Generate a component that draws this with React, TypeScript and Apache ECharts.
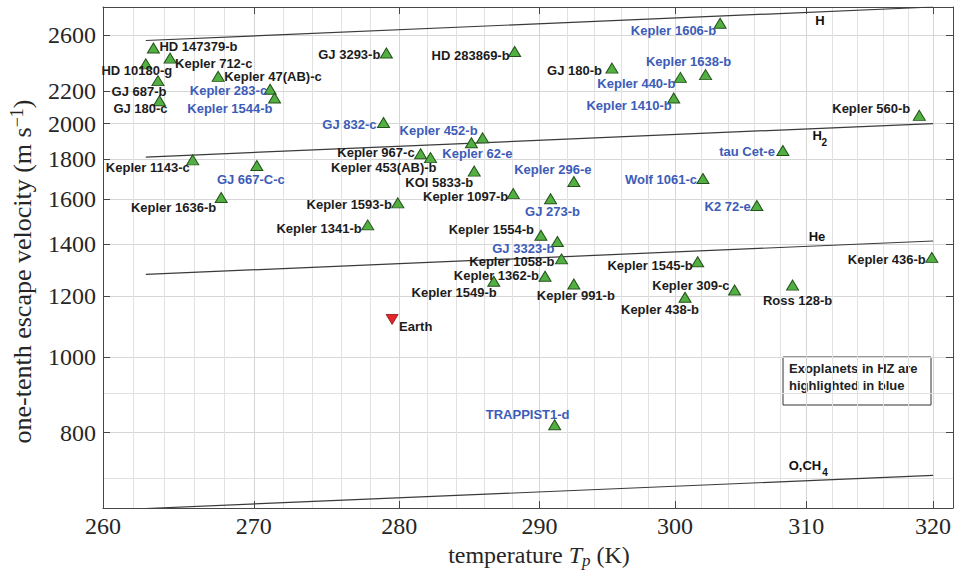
import { useEffect, useRef } from 'react';
import * as echarts from 'echarts';

// ---------- data ----------
const planetNames = [
  'HD 147379-b', 'Kepler 712-c', 'HD 10180-g', 'GJ 687-b', 'GJ 180-c', 'Kepler 47(AB)-c',
  'Kepler 283-c', 'Kepler 1544-b', 'Kepler 1143-c', 'GJ 667-C-c', 'Kepler 1636-b', 'GJ 3293-b',
  'HD 283869-b', 'GJ 180-b', 'GJ 832-c', 'Kepler 452-b', 'Kepler 62-e', 'Kepler 967-c',
  'Kepler 453(AB)-b', 'KOI 5833-b', 'Kepler 296-e', 'Kepler 1097-b', 'GJ 273-b', 'Kepler 1593-b',
  'Kepler 1341-b', 'Kepler 1554-b', 'GJ 3323-b', 'Kepler 1058-b', 'Kepler 1362-b', 'Kepler 1549-b',
  'Kepler 991-b', 'TRAPPIST1-d', 'Kepler 1606-b', 'Kepler 1638-b', 'Kepler 440-b', 'Kepler 1410-b',
  'Kepler 560-b', 'tau Cet-e', 'Wolf 1061-c', 'K2 72-e', 'Kepler 1545-b', 'Kepler 436-b',
  'Kepler 309-c', 'Kepler 438-b', 'Ross 128-b',
];
const planetTemps = [
  263.3, 264.4, 262.8, 263.6, 263.7, 267.6,
  271.1, 271.4, 265.9, 270.2, 267.8, 279.1,
  288.2, 295.3, 278.9, 285.9, 285.1, 281.5,
  282.2, 285.3, 292.5, 288.1, 290.8, 279.9,
  277.8, 290.1, 291.3, 291.6, 290.4, 286.7,
  292.5, 291.1, 303.4, 302.3, 300.4, 299.9,
  318.9, 308.2, 302.1, 306.2, 301.7, 319.9,
  304.5, 300.75, 308.95,
];
const planetVelocities = [
  2502, 2428, 2387, 2271, 2140, 2300,
  2214, 2157, 1796, 1766, 1606, 2465,
  2476, 2357, 2006, 1917, 1889, 1829,
  1808, 1737, 1684, 1625, 1600, 1581,
  1481, 1436, 1410, 1339, 1272, 1253,
  1243, 819, 2692, 2312, 2293, 2157,
  2049, 1846, 1699, 1569, 1328, 1345,
  1221, 1195, 1239,
];
const habitableZone = [
  'Kepler 283-c', 'Kepler 1544-b', 'GJ 667-C-c', 'GJ 832-c', 'Kepler 452-b', 'Kepler 62-e',
  'Kepler 296-e', 'GJ 273-b', 'GJ 3323-b', 'TRAPPIST1-d', 'Kepler 1606-b', 'Kepler 1638-b',
  'Kepler 440-b', 'Kepler 1410-b', 'tau Cet-e', 'Wolf 1061-c', 'K2 72-e',
];

const earthName = 'Earth';
const earthTemp = 279.5;
const earthVelocity = 1119;

// gas retention limits (two end points each)
const limitTemps = [262.8, 320];
const limitH = [2558, 2825];
const limitH2 = [1811, 2000];
const limitHe = [1279, 1412];
const limitOCH4 = [639, 705];

const limitLabelTexts = ['H', 'H', 'He', 'O,CH'];
const limitLabelSubs = ['', '2', '', '4'];
const limitLabelTemps = [310.7, 310.5, 310.2, 308.65];
const limitLabelVels = [2718, 1929, 1432, 725];

const xMajorTicks = [260, 270, 280, 290, 300, 310, 320];
const xMinorTicks = [262, 264, 266, 268, 272, 274, 276, 278, 282, 284, 286, 288, 292, 294, 296, 298,
  302, 304, 306, 308, 312, 314, 316, 318];
const yMajorTicks = [800, 1000, 1200, 1400, 1600, 1800, 2000, 2200, 2600];
const yMinorTicks = [700, 900];

// ---------- label placement (style, not data) ----------
const labelPlacement: Record<string, [string, number, number]> = {
  'HD 147379-b': ['left', 6, -1],
  'Kepler 712-c': ['left', 5, 5],
  'HD 10180-g': ['center', -9, 7],
  'GJ 687-b': ['center', -19, 10.5],
  'GJ 180-c': ['center', -19, 8],
  'Kepler 47(AB)-c': ['left', 6, 0],
  'Kepler 283-c': ['right', -3, 1],
  'Kepler 1544-b': ['right', -2, 10],
  'Kepler 1143-c': ['right', -3, 7.5],
  'GJ 667-C-c': ['center', -6, 14],
  'Kepler 1636-b': ['right', -5, 10],
  'GJ 3293-b': ['right', -6, 2],
  'HD 283869-b': ['right', -5, 4],
  'GJ 180-b': ['right', -10, 2],
  'GJ 832-c': ['right', -7, 2],
  'Kepler 452-b': ['right', -5, -7],
  'Kepler 62-e': ['center', 6, 11],
  'Kepler 967-c': ['right', -6, -1],
  'Kepler 453(AB)-b': ['right', 6, 10],
  'KOI 5833-b': ['right', -1, 11],
  'Kepler 296-e': ['center', -21, -12],
  'Kepler 1097-b': ['right', -5, 3],
  'GJ 273-b': ['center', 2, 13],
  'Kepler 1593-b': ['right', -6, 2],
  'Kepler 1341-b': ['right', -6, 4],
  'Kepler 1554-b': ['right', -7, -6],
  'GJ 3323-b': ['right', -3, 7],
  'Kepler 1058-b': ['right', -7, 3],
  'Kepler 1362-b': ['right', -6, -1],
  'Kepler 1549-b': ['right', 3, 11],
  'Kepler 991-b': ['center', 2, 11],
  'TRAPPIST1-d': ['center', -27, -10],
  'Kepler 1606-b': ['right', -4, 7],
  'Kepler 1638-b': ['center', -17, -13],
  'Kepler 440-b': ['right', -5, 6],
  'Kepler 1410-b': ['right', -2, 7],
  'Kepler 560-b': ['right', -9, -7],
  'tau Cet-e': ['right', -8, 1],
  'Wolf 1061-c': ['right', -6, 1],
  'K2 72-e': ['right', -6, 1],
  'Kepler 1545-b': ['right', -5, 4],
  'Kepler 436-b': ['right', -6, 2],
  'Kepler 309-c': ['right', -5, -5],
  'Kepler 438-b': ['right', 14, 12],
  'Ross 128-b': ['center', 5, 15],
  'Earth': ['left', 7, 7],
};

const subOffsets: [number, number][] = [[0, 0], [9, 6.5], [0, 0], [33.5, 6.5]];

const lg = (v: number) => Math.log10(v);
const fmt = (v: number) => String(Math.round(Math.pow(10, v)));

const BLUE = '#3c5cb8';
const BLACK = '#1c1c1c';
const SANS = '"Liberation Sans", Arial, Helvetica, sans-serif';
const SERIF = '"Liberation Serif", "Times New Roman", serif';
const AXIS_COLOR = '#474747';

export default function App() {
  const ref = useRef<HTMLDivElement>(null);

  useEffect(() => {
    document.body.style.margin = '0';
    if (!ref.current) return;
    const chart = echarts.init(ref.current, undefined, { renderer: 'svg' });

    const xMin = lg(260);
    const xMax = lg(321.6);
    const yMin = lg(640);
    const yMax = lg(2825);

    const axisLine = { show: true, onZero: false, lineStyle: { color: AXIS_COLOR, width: 1 } };
    const tickStyle = { color: AXIS_COLOR, width: 1 };

    const planetData = planetNames.map((n, i) => {
      const p = labelPlacement[n] || ['left', 6, 0];
      return {
        name: n,
        value: [lg(planetTemps[i]), lg(planetVelocities[i])],
        label: {
          align: p[0],
          offset: [p[1], p[2]],
          color: habitableZone.includes(n) ? BLUE : BLACK,
        },
      };
    });

    const ep = labelPlacement[earthName];
    const earthData = [{
      name: earthName,
      value: [lg(earthTemp), lg(earthVelocity)],
      label: { align: ep[0], offset: [ep[1], ep[2]], color: BLACK },
    }];

    const limitLine = (vals: number[]) => ({
      type: 'line',
      xAxisIndex: 0,
      yAxisIndex: 0,
      symbol: 'none',
      showSymbol: false,
      silent: true,
      clip: true,
      lineStyle: { color: '#3a3a3a', width: 1.2 },
      data: limitTemps.map((t, i) => [lg(t), lg(vals[i])]),
      z: 2,
    });

    const labelBase = {
      show: true,
      position: 'inside',
      verticalAlign: 'middle',
      fontFamily: SANS,
      fontWeight: 'bold',
      fontSize: 13,
      textBorderWidth: 0,
      opacity: 1,
      formatter: (p: any) => p.name,
    };

    const option: any = {
      animation: false,
      backgroundColor: '#ffffff',
      grid: { left: 99, top: 7, right: 4, bottom: 69, containLabel: false },
      xAxis: [
        {
          type: 'value', min: xMin, max: xMax, position: 'bottom',
          axisLine,
          axisTick: { show: true, inside: true, length: 7, customValues: xMajorTicks.map(lg), lineStyle: tickStyle },
          axisLabel: {
            customValues: xMajorTicks.map(lg), formatter: fmt, fontFamily: SERIF, fontSize: 24,
            color: '#262626', margin: 6,
          },
          splitLine: { show: true, lineStyle: { color: '#d6d6d6', width: 1 } },
          name: 'temperature {it|T}{sub|p} (K)',
          nameLocation: 'middle',
          nameGap: 19,
          nameTextStyle: {
            fontFamily: SERIF, fontSize: 24, color: '#262626', verticalAlign: 'top',
            padding: [0, 0, 0, 22],
            rich: {
              it: { fontFamily: SERIF, fontSize: 24, fontStyle: 'italic', color: '#262626' },
              sub: { fontFamily: SERIF, fontSize: 17, fontStyle: 'italic', color: '#262626', padding: [12, 0, 0, 0] },
            },
          },
        },
        {
          type: 'value', min: xMin, max: xMax, position: 'top',
          axisLine,
          axisTick: { show: true, inside: true, length: 7, customValues: xMajorTicks.map(lg), lineStyle: tickStyle },
          axisLabel: { show: false },
          splitLine: { show: false },
        },
        {
          type: 'value', min: xMin, max: xMax, position: 'bottom',
          axisLine: { show: false },
          axisTick: { show: false, customValues: xMinorTicks.map(lg) },
          axisLabel: { show: false },
          splitLine: { show: true, lineStyle: { color: '#e2e2e2', width: 1 } },
        },
      ],
      yAxis: [
        {
          type: 'value', min: yMin, max: yMax, position: 'left',
          axisLine,
          axisTick: { show: true, inside: true, length: 7, customValues: yMajorTicks.map(lg), lineStyle: tickStyle },
          axisLabel: {
            customValues: yMajorTicks.map(lg), formatter: fmt, fontFamily: SERIF, fontSize: 24,
            color: '#262626', margin: 7,
          },
          splitLine: { show: true, lineStyle: { color: '#d6d6d6', width: 1 } },
          name: 'one-tenth escape velocity (m s{sup|−1})',
          nameLocation: 'middle',
          nameGap: 66,
          nameRotate: 90,
          nameTextStyle: {
            fontFamily: SERIF, fontSize: 26, color: '#262626',
            padding: [0, 28, 0, 0],
            rich: {
              sup: { fontFamily: SERIF, fontSize: 18, color: '#262626', padding: [0, 0, 11, 0] },
            },
          },
        },
        {
          type: 'value', min: yMin, max: yMax, position: 'right',
          axisLine,
          axisTick: { show: true, inside: true, length: 7, customValues: yMajorTicks.map(lg), lineStyle: tickStyle },
          axisLabel: { show: false },
          splitLine: { show: false },
        },
        {
          type: 'value', min: yMin, max: yMax, position: 'left',
          axisLine: { show: false },
          axisTick: { show: false, customValues: yMinorTicks.map(lg) },
          axisLabel: { show: false },
          splitLine: { show: true, lineStyle: { color: '#e2e2e2', width: 1 } },
        },
      ],
      graphic: [
        {
          type: 'group',
          z: 100,
          children: [
            {
              type: 'rect',
              shape: { x: 783, y: 357, width: 148, height: 48 },
              style: { fill: '#ffffff', stroke: '#333333', lineWidth: 1 },
            },
            {
              type: 'text', x: 789, y: 368,
              style: {
                text: 'Exoplanets in HZ are', fontFamily: SANS, fontWeight: 'bold', fontSize: 13,
                fill: '#222222', verticalAlign: 'middle',
              },
            },
            {
              type: 'text', x: 789, y: 385,
              style: {
                text: 'highlighted in blue', fontFamily: SANS, fontWeight: 'bold', fontSize: 13,
                fill: '#222222', verticalAlign: 'middle',
              },
            },
          ],
        },
      ],
      series: [
        limitLine(limitH),
        limitLine(limitH2),
        limitLine(limitHe),
        limitLine(limitOCH4),
        {
          type: 'scatter',
          xAxisIndex: 0, yAxisIndex: 0,
          silent: true,
          symbol: 'circle',
          symbolSize: 0.1,
          itemStyle: { color: '#ffffff' },
          label: { ...labelBase, color: '#111111', align: 'left' },
          data: limitLabelTexts.map((t, i) => ({ name: t, value: [lg(limitLabelTemps[i]), lg(limitLabelVels[i])] })),
          z: 5,
        },
        {
          type: 'scatter',
          xAxisIndex: 0, yAxisIndex: 0,
          silent: true,
          symbol: 'circle',
          symbolSize: 0.1,
          itemStyle: { color: '#ffffff' },
          label: { ...labelBase, fontSize: 10, color: '#111111', align: 'left' },
          data: limitLabelSubs
            .map((s, i) => ({
              name: s,
              value: [lg(limitLabelTemps[i]), lg(limitLabelVels[i])],
              label: { offset: subOffsets[i] },
            }))
            .filter((d) => d.name !== ''),
          z: 5,
        },
        {
          type: 'scatter',
          name: 'exoplanets',
          xAxisIndex: 0, yAxisIndex: 0,
          symbol: 'triangle',
          symbolSize: [12, 10],
          itemStyle: { color: '#52b043', borderColor: '#24521a', borderWidth: 1, opacity: 1 },
          label: labelBase,
          data: planetData,
          z: 10,
        },
        {
          type: 'scatter',
          name: 'Earth',
          xAxisIndex: 0, yAxisIndex: 0,
          symbol: 'triangle',
          symbolRotate: 180,
          symbolSize: [12, 10],
          itemStyle: { color: '#e3262b', borderColor: '#8c1414', borderWidth: 0.8, opacity: 1 },
          label: labelBase,
          data: earthData,
          z: 10,
        },
      ],
    };

    chart.setOption(option);
    return () => chart.dispose();
  }, []);

  return <div ref={ref} style={{ width: 957, height: 577 }} />;
}
